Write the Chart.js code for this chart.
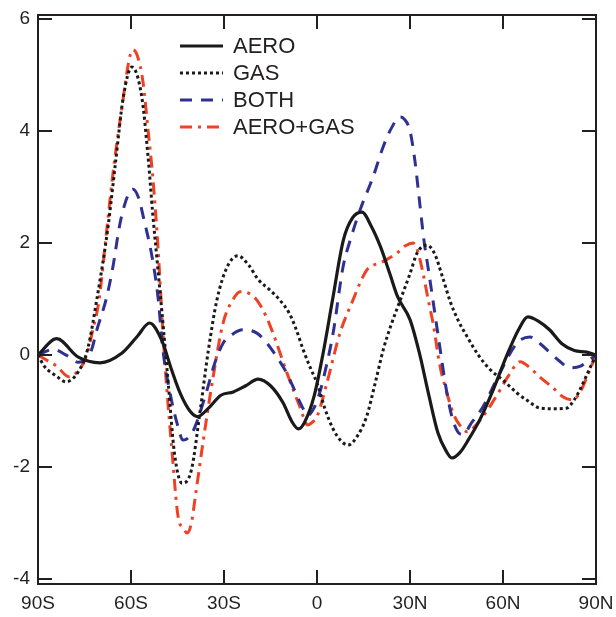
<!DOCTYPE html>
<html>
<head>
<meta charset="utf-8">
<script src="https://cdn.jsdelivr.net/npm/chart.js@4/dist/chart.umd.min.js"></script>
<style>
  html, body { margin: 0; padding: 0; background: #fff; }
  #wrap { width: 616px; height: 617px; position: relative; }
</style>
</head>
<body>
<div id="wrap"><canvas id="c"></canvas></div>
<script>
// ---- data ----
const xTickValues = [-90, -60, -30, 0, 30, 60, 90];
const xTickLabels = ['90S', '60S', '30S', '0', '30N', '60N', '90N'];
const yTickValues = [-4, -2, 0, 2, 4, 6];
const yTickLabels = ['-4', '-2', '0', '2', '4', '6'];

const seriesNames = ['AERO', 'GAS', 'BOTH', 'AERO+GAS'];

const aeroLat = [-90, -84, -77, -70, -63, -58, -54, -50, -47, -44, -41, -38.5, -35, -31, -27, -23, -19, -15, -11, -8, -6, -4, -1, 2, 5, 8.5, 11.5, 14.5, 17.5, 20.5, 23.5, 26, 30, 33, 36, 39, 41.5, 43.5, 46, 49, 52.5, 57, 61, 65, 68, 71.5, 75, 79, 83, 87, 90];
const aeroVal = [0, 0.29, -0.04, -0.14, 0.03, 0.33, 0.57, 0.25, -0.25, -0.7, -1.0, -1.1, -0.95, -0.72, -0.66, -0.55, -0.43, -0.55, -0.85, -1.2, -1.32, -1.2, -0.75, 0.04, 0.98, 2.05, 2.45, 2.55, 2.3, 1.93, 1.45, 1.04, 0.63, 0.04, -0.7, -1.39, -1.7, -1.84, -1.75, -1.5, -1.16, -0.6, -0.04, 0.45, 0.68, 0.6, 0.45, 0.2, 0.08, 0.05, 0];

const gasLat = [-90, -88, -84, -81, -77, -74, -71, -67.5, -65, -62.5, -59.7, -56.5, -54.5, -53, -51.3, -49.5, -48, -46, -43.5, -40.5, -37.7, -35, -32.3, -29, -25.5, -22, -19, -15, -12, -9, -7, -4.5, -2, 0, 2.5, 5, 7.5, 10, 13, 16, 19, 21.5, 24, 27, 30, 32.3, 35.5, 38, 40.5, 43, 45.5, 48.5, 52, 56, 60, 64.5, 68, 72, 76, 80.5, 83, 85, 87.5, 90];
const gasVal = [0, -0.2, -0.38, -0.48, -0.3, 0.1, 1.0, 2.25, 3.43, 4.6, 5.14, 4.6, 3.54, 2.53, 1.52, 0.45, -0.5, -1.75, -2.29, -2.05, -1.0, 0.1, 0.98, 1.57, 1.77, 1.6, 1.35, 1.15, 0.98, 0.75, 0.5, 0.1, -0.25, -0.5, -0.95, -1.3, -1.52, -1.61, -1.45, -1.1, -0.45, 0.12, 0.55, 1.0, 1.45, 1.82, 1.96, 1.8, 1.39, 0.95, 0.62, 0.32, 0.0, -0.27, -0.45, -0.68, -0.82, -0.95, -0.96, -0.95, -0.8, -0.6, -0.3, 0];

const bothLat = [-90, -85, -81, -77, -73, -71, -68, -66, -63.5, -61, -59.4, -57.5, -56, -53.2, -51.3, -49.7, -47.4, -45, -43.2, -41, -39.4, -35.5, -33, -30.3, -27, -24, -19.4, -16, -12.9, -10, -7.7, -5, -3, -1, 1, 3, 5.2, 8.4, 11, 13.9, 18.1, 21.3, 24, 26.8, 28, 30, 31.6, 32.6, 34.5, 36, 38, 40, 41.5, 43.5, 45.5, 47, 50, 53.5, 59, 64.5, 68.7, 72, 75.2, 78, 81.6, 85, 87.1, 90];
const bothVal = [0, 0.1, 0.0, -0.13, 0.05, 0.45, 1.0, 1.52, 2.36, 2.85, 2.96, 2.8, 2.46, 1.75, 1.04, 0.09, -0.68, -1.25, -1.52, -1.45, -1.29, -0.63, -0.15, 0.21, 0.38, 0.45, 0.39, 0.2, -0.04, -0.3, -0.57, -0.9, -1.08, -0.95, -0.65, -0.2, 0.39, 1.57, 2.1, 2.59, 3.18, 3.71, 4.05, 4.25, 4.22, 4.0, 3.46, 2.98, 2.05, 1.5, 0.75, 0.0, -0.55, -1.1, -1.38, -1.42, -1.2, -0.93, -0.32, 0.21, 0.32, 0.2, 0.04, -0.1, -0.23, -0.2, -0.12, 0];

const sumLat = [-90, -87, -84, -80, -77, -74.5, -72.3, -70.3, -68.4, -65.8, -62.9, -60.5, -59.4, -58, -56.1, -54.5, -52.9, -51.3, -49.7, -49, -46.8, -44.8, -43, -41.9, -40.5, -39.4, -36.8, -33.5, -30.3, -27, -24.8, -22, -19.4, -16.5, -14.2, -9.7, -5.5, -3, -1.5, 0, 3.2, 7.4, 11.6, 14, 16.1, 18, 20.3, 23, 25.8, 28.5, 31, 32.5, 34.2, 36, 37.5, 39.5, 41.5, 44, 46, 48.5, 51, 53.5, 56, 59, 62, 65.5, 68.5, 72, 76, 79.4, 82.6, 85, 87.1, 90];
const sumVal = [0, -0.1, -0.2, -0.39, -0.28, -0.04, 0.45, 0.98, 1.93, 3.25, 4.43, 5.3, 5.45, 5.35, 4.86, 4.02, 3.13, 1.93, 0.4, -0.2, -1.7, -2.89, -3.1, -3.18, -3.0, -2.59, -1.57, -0.39, 0.57, 1.0, 1.13, 1.1, 0.98, 0.7, 0.39, -0.32, -0.93, -1.25, -1.2, -1.1, -0.5, 0.39, 0.98, 1.3, 1.52, 1.6, 1.64, 1.72, 1.82, 1.95, 2.0, 1.85, 1.46, 0.95, 0.55, -0.15, -0.6, -1.05, -1.25, -1.37, -1.27, -1.1, -0.9, -0.63, -0.35, -0.12, -0.22, -0.4, -0.58, -0.75, -0.8, -0.65, -0.39, 0];

// ---- styles ----
const INK = '#231f20';
const FONT = '"Liberation Sans", Arial, sans-serif';

function pts(lat, val) { return lat.map((x, i) => ({ x: x, y: val[i] })); }

const datasets = [
  { label: seriesNames[0], data: pts(aeroLat, aeroVal), borderColor: '#1a1a1a', borderWidth: 3.2, borderDash: [] },
  { label: seriesNames[1], data: pts(gasLat, gasVal), borderColor: '#1a1a1a', borderWidth: 3, borderDash: [3, 3] },
  { label: seriesNames[2], data: pts(bothLat, bothVal), borderColor: '#2e3192', borderWidth: 3, borderDash: [12, 9] },
  { label: seriesNames[3], data: pts(sumLat, sumVal), borderColor: '#ef4123', borderWidth: 3, borderDash: [12, 6, 3, 6] }
].map(d => Object.assign(d, {
  pointRadius: 0, fill: false, cubicInterpolationMode: 'monotone', borderCapStyle: 'butt'
}));

const framePlugin = {
  id: 'frame',
  afterDatasetsDraw(chart) {
    const { ctx, chartArea: a, scales } = chart;
    ctx.save();
    ctx.strokeStyle = INK;
    ctx.lineWidth = 2;
    ctx.setLineDash([]);
    ctx.strokeRect(a.left, a.top, a.right - a.left, a.bottom - a.top);
    const TL = 14;
    ctx.beginPath();
    xTickValues.forEach(v => {
      const px = Math.round(scales.x.getPixelForValue(v));
      ctx.moveTo(px, a.bottom); ctx.lineTo(px, a.bottom - TL);
      ctx.moveTo(px, a.top); ctx.lineTo(px, a.top + TL);
    });
    yTickValues.forEach(v => {
      const py = Math.round(scales.y.getPixelForValue(v));
      ctx.moveTo(a.left, py); ctx.lineTo(a.left + TL, py);
      ctx.moveTo(a.right, py); ctx.lineTo(a.right - TL, py);
    });
    ctx.stroke();
    ctx.restore();
  }
};

const legendPlugin = {
  id: 'lineLegend',
  afterDraw(chart) {
    const { ctx } = chart;
    ctx.save();
    const x0 = 180, x1 = 223, tx = 233, y0 = 46, dy = 27;
    chart.data.datasets.forEach((d, i) => {
      const y = y0 + i * dy;
      ctx.strokeStyle = d.borderColor;
      ctx.lineWidth = d.borderWidth;
      ctx.lineCap = 'butt';
      ctx.setLineDash(d.borderDash);
      ctx.beginPath();
      ctx.moveTo(x0, y); ctx.lineTo(x1, y);
      ctx.stroke();
      ctx.setLineDash([]);
      ctx.fillStyle = INK;
      ctx.font = '22px ' + FONT;
      ctx.textAlign = 'left';
      ctx.textBaseline = 'middle';
      ctx.fillText(d.label, tx, y + 1);
    });
    ctx.restore();
  }
};

new Chart(document.getElementById('c'), {
  type: 'line',
  data: { datasets: datasets },
  options: {
    animation: false,
    responsive: true,
    maintainAspectRatio: false,
    layout: { padding: { top: 15, right: 20, left: 0, bottom: 0 } },
    plugins: { legend: { display: false }, tooltip: { enabled: false } },
    scales: {
      x: {
        type: 'linear', min: -90, max: 90,
        grid: { display: false, drawTicks: false },
        border: { display: false },
        afterBuildTicks(s) { s.ticks = xTickValues.map(v => ({ value: v })); },
        afterFit(s) { s.height = 33; s.paddingLeft = 0; s.paddingRight = 0; },
        ticks: {
          autoSkip: false, maxRotation: 0, padding: 8,
          color: INK, font: { family: FONT, size: 19 },
          callback(v) { const i = xTickValues.indexOf(v); return i >= 0 ? xTickLabels[i] : ''; }
        }
      },
      y: {
        type: 'linear', min: -4.09, max: 6.07,
        grid: { display: false, drawTicks: false },
        border: { display: false },
        afterBuildTicks(s) { s.ticks = yTickValues.map(v => ({ value: v })); },
        afterFit(s) { s.width = 38; s.paddingTop = 0; s.paddingBottom = 0; },
        ticks: {
          padding: 8,
          color: INK, font: { family: FONT, size: 19 },
          callback(v) { const i = yTickValues.indexOf(v); return i >= 0 ? yTickLabels[i] : ''; }
        }
      }
    }
  },
  plugins: [framePlugin, legendPlugin]
});
</script>
</body>
</html>
